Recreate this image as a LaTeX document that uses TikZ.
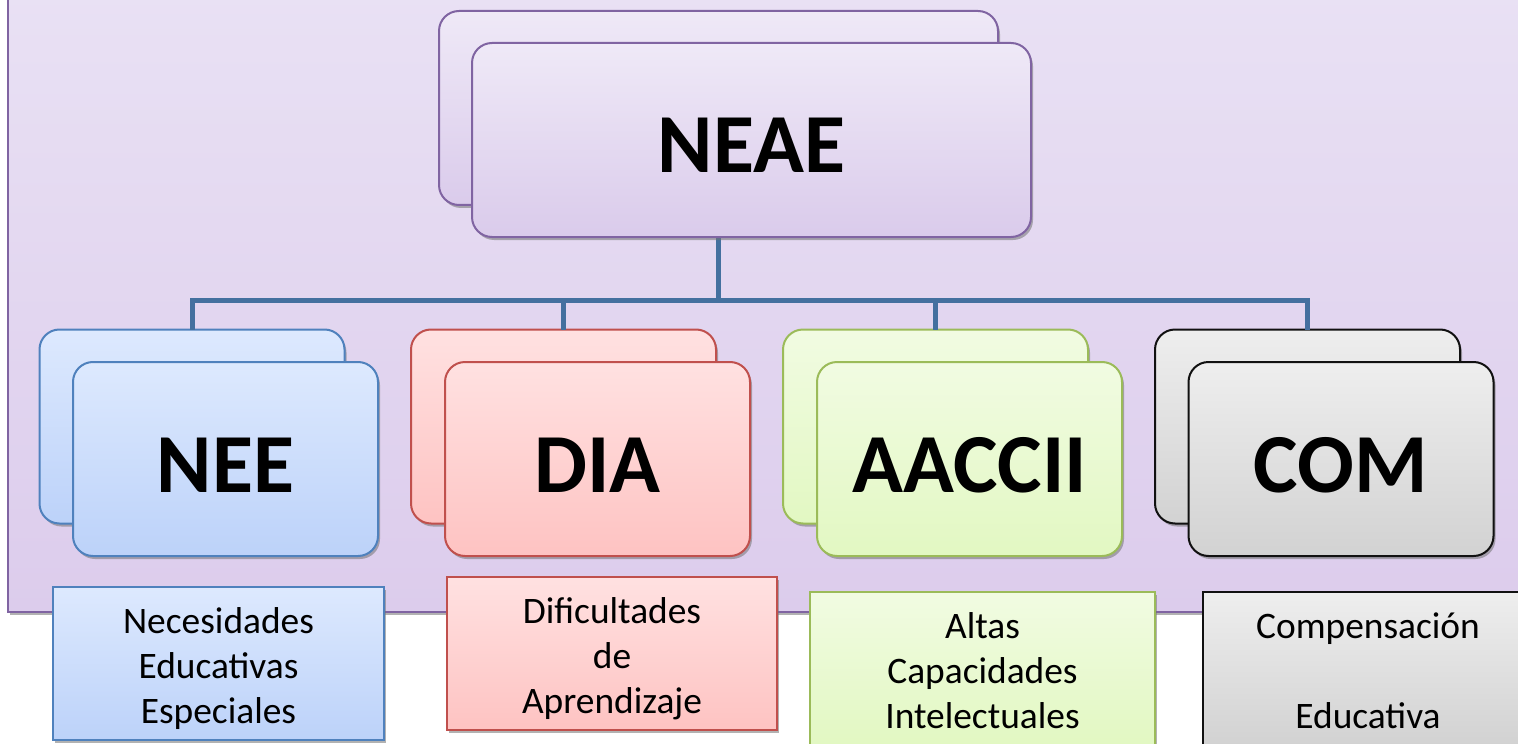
\documentclass[tikz,border=0pt]{standalone}
\usepackage{fontspec}
\setmainfont{Carlito}
\usetikzlibrary{
  calc,
  positioning,
  shadows,
}
\definecolor{bgTop}{HTML}{E9E1F4}
\definecolor{bgBot}{HTML}{DCCCEC}
\definecolor{neaeTop}{HTML}{EFE9F7}
\definecolor{neaeBot}{HTML}{DACBEB}
\definecolor{neaeLine}{HTML}{8064A2}
\definecolor{neeTop}{HTML}{DDE9FE}
\definecolor{neeBot}{HTML}{BCD2F9}
\definecolor{neeLine}{HTML}{4F81BD}
\definecolor{diaTop}{HTML}{FFE1E1}
\definecolor{diaBot}{HTML}{FEC3C2}
\definecolor{diaLine}{HTML}{C0504D}
\definecolor{aacTop}{HTML}{F1FBE2}
\definecolor{aacBot}{HTML}{E2F8C2}
\definecolor{aacLine}{HTML}{9BBB59}
\definecolor{comTop}{HTML}{EEEEEE}
\definecolor{comBot}{HTML}{D2D2D2}
\definecolor{comLine}{HTML}{111111}
\definecolor{busLine}{HTML}{44709F}
\newcommand\desctext[1]{%
  \raisebox{-3pt}[\height][\depth]{\begin{tabular}{@{}c@{}}#1\end{tabular}}}
\tikzset{
  x = 0.5pt,
  y = -0.5pt,
  shade/.style={drop shadow={shadow xshift=1pt, shadow yshift=-1.5pt,
      fill=black!55, opacity=.55}},
  panel/.style={draw=neaeLine, line width=1pt, top color=bgTop,
    bottom color=bgBot, shade},
  card/.style={
    draw, line width=1pt, rounded corners=10pt, shade,
    minimum width=152.5pt, minimum height=97pt,
    inner sep=0pt, outer sep=0pt,
    text height=33pt, text depth=0pt,
    font=\fontsize{42}{48}\selectfont\bfseries,
  },
  desc/.style={
    draw, line width=1pt, shade,
    minimum width=165.5pt, minimum height=76.5pt,
    inner sep=0pt, outer sep=0pt,
    font=\fontsize{18.7}{22.5}\selectfont,
  },
  neae/.style={draw=neaeLine, top color=neaeTop, bottom color=neaeBot},
  nee/.style={draw=neeLine, top color=neeTop, bottom color=neeBot},
  dia/.style={draw=diaLine, top color=diaTop, bottom color=diaBot},
  aac/.style={draw=aacLine, top color=aacTop, bottom color=aacBot},
  com/.style={draw=comLine, top color=comTop, bottom color=comBot},
  bus/.style={draw=busLine, line width=2.5pt},
}

\begin{document}
\begin{tikzpicture}
  \useasboundingbox (0,0) rectangle (1518,743);
  \path[panel] (8,-10) rectangle (1530,612);
  % back cards
  \node[card, neae, minimum width=279.5pt](NEAEb) at (718.5,108) {};
  \node[card, nee](NEEb) at (192,426.5) {};
  \node[card, dia](DIAb) at (563.5,426.5) {};
  \node[card, aac](AACb) at (935.5,426.5) {};
  \node[card, com](COMb) at (1307.5,426.5) {};
  % tree
  \draw[bus](NEAEb.south) -- ++(0,95) -| (NEEb.north);
  \draw[bus](NEAEb.south) -- ++(0,95) -| (DIAb.north);
  \draw[bus](NEAEb.south) -- ++(0,95) -| (AACb.north);
  \draw[bus](NEAEb.south) -- ++(0,95) -| (COMb.north);
  % front cards
  \node[card, neae, minimum width=279.5pt](NEAE) at ([shift={(33,32)}]NEAEb) {NEAE};
  \node[card, nee](NEE) at ([shift={(33.5,32.5)}]NEEb) {NEE};
  \node[card, dia](DIA) at ([shift={(34,32.5)}]DIAb) {DIA};
  \node[card, aac](AAC) at ([shift={(34,32.5)}]AACb) {AACCII};
  \node[card, com](COM) at ([shift={(33.5,32.5)}]COMb) {COM};
  %%
  \node[desc, nee](NEEd) at (218.5,663.5) {\desctext{Necesidades\\Educativas\\Especiales}};
  \node[desc, dia, minimum width=165pt](DIAd) at (612,653.5) {\desctext{Dificultades\\de\\Aprendizaje}};
  \node[desc, aac, minimum width=172.5pt](AACd) at (982.5,668.5) {\desctext{Altas\\Capacidades\\Intelectuales}};
  \node[desc, com, minimum width=165pt](COMd) at (1368,668.5) {\desctext{Compensación\\ \\Educativa}};
\end{tikzpicture}
\end{document}
